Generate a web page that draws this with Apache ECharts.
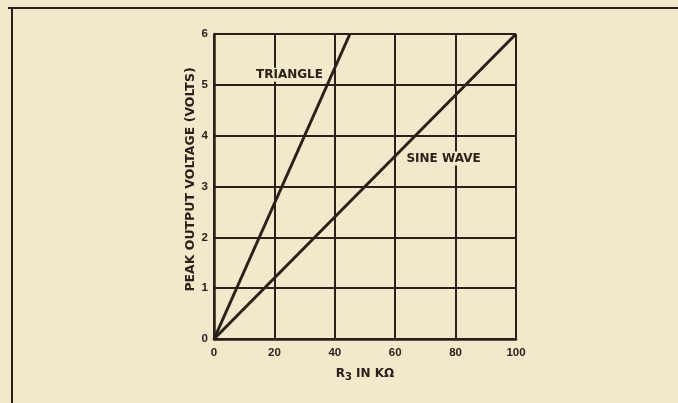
<!DOCTYPE html>
<html>
<head>
<meta charset="utf-8">
<script src="https://cdn.jsdelivr.net/npm/echarts@6/dist/echarts.min.js"></script>
<style>
html,body{margin:0;padding:0;background:#f3e7cc;}
#c{width:678px;height:403px;}
</style>
</head>
<body>
<div id="c"></div>
<script>
// === 數據 ===
const xTicks=[0,20,40,60,80,100];
const yTicks=[0,1,2,3,4,5,6];
const triangleData=[[0,0],[45,6]];
const sineData=[[0,0],[100,6]];
const labelPoints=[{name:'TRIANGLE',value:[25,5.2]},{name:'SINE WAVE',value:[76,3.55]}];

// === 樣式 ===
const INK='#2a2219';
const BG='#f3e7cc';
const FONT='"Liberation Sans", Arial, sans-serif';
const WIDE='"DejaVu Sans", sans-serif';

const chart=echarts.init(document.getElementById('c'),null,{renderer:'canvas'});
chart.setOption({
  backgroundColor:BG,
  animation:false,
  grid:{left:214,right:162,top:34,bottom:64},
  xAxis:{
    type:'value',min:xTicks[0],max:xTicks[xTicks.length-1],interval:20,
    name:'{r|R}{s|3}{r| IN KΩ}',nameLocation:'middle',nameGap:27,
    nameTextStyle:{rich:{
      r:{fontFamily:WIDE,fontWeight:'bold',fontSize:12,color:INK},
      s:{fontFamily:WIDE,fontWeight:'bold',fontSize:10,color:INK,padding:[6,0,0,0]}
    }},
    axisLine:{show:true,lineStyle:{color:INK,width:2.5}},
    axisTick:{show:false},
    axisLabel:{margin:8,color:INK,fontFamily:FONT,fontWeight:'bold',fontSize:11.5},
    splitLine:{show:true,lineStyle:{color:INK,width:2}}
  },
  yAxis:{
    type:'value',min:yTicks[0],max:yTicks[yTicks.length-1],interval:1,
    name:'PEAK OUTPUT VOLTAGE (VOLTS)',nameLocation:'middle',nameGap:11,
    nameTextStyle:{fontFamily:WIDE,fontWeight:'bold',fontSize:12.5,color:INK,padding:[0,0,0,14]},
    axisLine:{show:true,lineStyle:{color:INK,width:2.5}},
    axisTick:{show:false},
    axisLabel:{margin:6,color:INK,fontFamily:FONT,fontWeight:'bold',fontSize:11.5},
    splitLine:{show:true,lineStyle:{color:INK,width:2}}
  },
  series:[
    {type:'line',name:'TRIANGLE',data:triangleData,symbol:'none',lineStyle:{color:INK,width:3}},
    {type:'line',name:'SINE WAVE',data:sineData,symbol:'none',lineStyle:{color:INK,width:3}},
    {type:'scatter',data:labelPoints,symbolSize:0,itemStyle:{opacity:1},
      label:{show:true,position:'inside',formatter:p=>p.name,
        fontFamily:WIDE,fontWeight:'bold',fontSize:12,color:INK,opacity:1,
        backgroundColor:BG,padding:[1,2]}}
  ],
  graphic:[
    {type:'line',shape:{x1:8,y1:8,x2:678,y2:8},style:{stroke:INK,lineWidth:2}},
    {type:'line',shape:{x1:12,y1:8,x2:12,y2:403},style:{stroke:INK,lineWidth:2}}
  ]
});
</script>
</body>
</html>
